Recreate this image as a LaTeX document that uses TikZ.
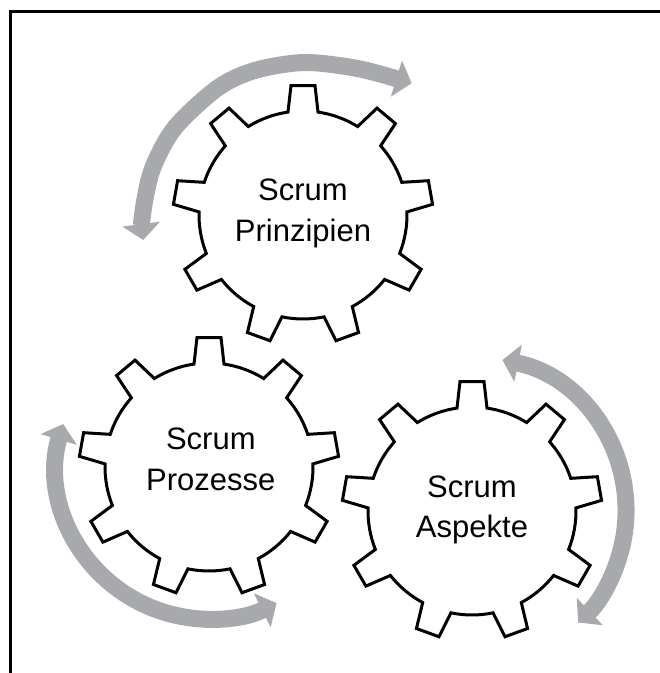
\documentclass[tikz,border=0pt]{standalone}
\usepackage{fontspec}
\setmainfont{Liberation Sans}
\usetikzlibrary{arrows.meta}
\definecolor{arrowgray}{RGB}{167,169,172}
\tikzstyle{gear}=[
	draw=black,
	line width=3pt,
	fill=white
]
\tikzstyle{cyclearrow}=[
	draw=arrowgray,
	line width=17pt,
	{Triangle[length=16pt,width=37pt]}-{Triangle[length=16pt,width=37pt]}
]
\tikzstyle{gearlabel}=[
	align=center,
	text=black,
	font=\fontsize{31}{40.5}\selectfont
]

\begin{document}
\begin{tikzpicture}[x=1pt,y=1pt]
\useasboundingbox (0,0) rectangle (660,673);

% Frame
\draw[line width=2.8pt] (10.5,-3) -- (10.5,661.7) -- (663,661.7);

% Gear centres
\coordinate (prinzipien) at (303,458);
\coordinate (prozesse) at (209,206);
\coordinate (aspekte) at (472,162);

% Arrow round Scrum Prinzipien
\draw[cyclearrow] plot[smooth] coordinates {(143.3,433) (142.5,458) (152,503) (174.6,545) (217.6,585) (255,602.6) (305,610.5) (360,604) (411.7,589.7)};

% Arrow round Scrum Prozesse
\draw[cyclearrow] ([shift={(163.6:152)}]prozesse) arc[start angle=163.6, end angle=296.4, radius=152];

% Arrow round Scrum Aspekte
\draw[cyclearrow] ([shift={(78.6:154)}]aspekte) arc[start angle=78.6, end angle=-46.4, radius=154];

% Gears
\foreach \g in {prinzipien,prozesse,aspekte}{
	\draw[gear,shift={(\g)}] (98.3:104)
		\foreach \a in {130,170,...,450}{
			arc[start angle=\a-31.7, end angle=\a-8.3, radius=104]
			-- (\a-5.3:130) -- (\a+5.3:130) -- (\a+8.3:104)
		} -- cycle;
}

% Labels
\node[gearlabel,yshift=1.7] (lprinzipien) at (prinzipien) {Scrum\\Prinzipien};
\node[gearlabel,xshift=1.8,yshift=7.5] (lprozesse) at (prozesse) {Scrum\\Prozesse};
\node[gearlabel,yshift=1] (laspekte) at (aspekte) {Scrum\\Aspekte};

\end{tikzpicture}
\end{document}
